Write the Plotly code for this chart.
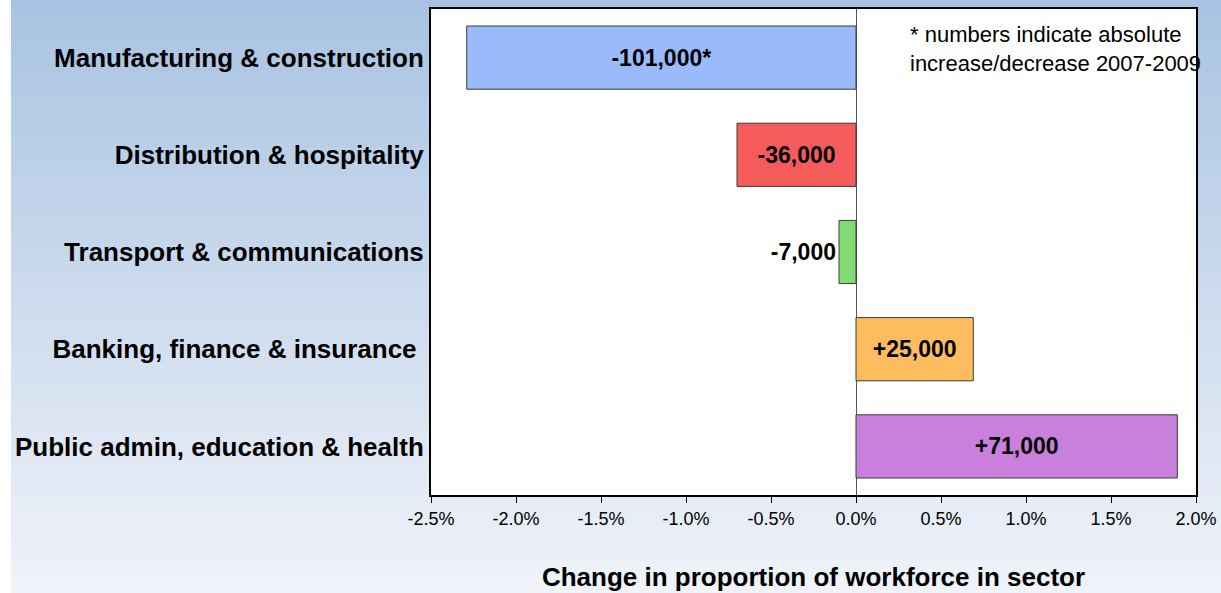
"""Change in proportion of workforce by sector, 2007-2009."""

import plotly.graph_objects as go

sectors = [
    "Manufacturing & construction",
    "Distribution & hospitality",
    "Transport & communications",
    "Banking, finance & insurance ",
    "Public admin, education & health",
]
change_pct = [-2.29, -0.70, -0.10, 0.69, 1.89]
abs_change = ["-101,000*", "-36,000", "-7,000", "+25,000", "+71,000"]
bar_colors = ["#99bbfb", "#f45c5c", "#82dc74", "#fdbd5e", "#c880dc"]
x_ticks = [-2.5, -2.0, -1.5, -1.0, -0.5, 0.0, 0.5, 1.0, 1.5, 2.0]
note_lines = ["* numbers indicate absolute", "increase/decrease 2007-2009"]

FONT = "Liberation Sans, Arial, sans-serif"
W, H = 1221, 593
M_L, M_R, M_T, M_B = 431, 25, 9, 98
PW, PH = W - M_L - M_R, H - M_T - M_B


def px_x(p):
    return (p - M_L) / PW


def px_y(p):
    return (H - M_B - p) / PH


def mix(c0, c1, t):
    return "rgb({},{},{})".format(*[round(a + (b - a) * t) for a, b in zip(c0, c1)])


fig = go.Figure(
    go.Bar(
        x=change_pct,
        y=sectors,
        orientation="h",
        width=0.65,
        marker={"color": bar_colors, "line": {"color": "#3a3a3a", "width": 1}},
        text=abs_change,
        textposition=["inside", "inside", "outside", "inside", "inside"],
        insidetextanchor="middle",
        textangle=0,
        textfont={"family": FONT, "size": 23, "color": "black", "weight": "bold"},
        cliponaxis=False,
        hoverinfo="skip",
    )
)

# gradient backdrop behind the whole figure, white plot area on top
top, bottom = (168, 195, 226), (240, 243, 249)
steps = 80
shapes = []
for i in range(steps):
    y0 = i * H / steps
    y1 = (i + 1) * H / steps + 0.5
    shapes.append(
        dict(
            type="rect", xref="paper", yref="paper", layer="below",
            x0=px_x(11), x1=px_x(W + 2), y0=px_y(y1), y1=px_y(y0),
            fillcolor=mix(top, bottom, i / (steps - 1)), line_width=0,
        )
    )
shapes.append(
    dict(type="rect", xref="paper", yref="paper", layer="below",
         x0=0, x1=1, y0=0, y1=1, fillcolor="white", line_width=0)
)

annotations = [
    dict(
        text=line, xref="paper", yref="paper", x=px_x(908), y=px_y(yc),
        xanchor="left", yanchor="middle", showarrow=False,
        font={"family": FONT, "size": 22, "color": "black"},
    )
    for line, yc in zip(note_lines, [35, 64])
]

fig.update_layout(
    width=W,
    height=H,
    margin={"l": M_L, "r": M_R, "t": M_T, "b": M_B},
    paper_bgcolor="white",
    plot_bgcolor="rgba(0,0,0,0)",
    showlegend=False,
    shapes=shapes,
    annotations=annotations,
    font={"family": FONT, "color": "black"},
)
fig.update_xaxes(
    range=[-2.5, 2.0],
    tickvals=x_ticks,
    ticktext=[f"{v:.1f}%" for v in x_ticks],
    tickfont={"size": 18},
    ticks="outside",
    ticklen=6,
    tickcolor="black",
    showgrid=False,
    zeroline=True,
    zerolinecolor="#555",
    zerolinewidth=1,
    showline=True,
    linecolor="black",
    linewidth=2,
    mirror=True,
    automargin=False,
    title={
        "text": "<b>Change in proportion of workforce in sector</b>",
        "font": {"size": 26},
        "standoff": 40,
    },
)
fig.update_yaxes(
    autorange="reversed",
    tickfont={"size": 26, "weight": "bold"},
    ticks="",
    showgrid=False,
    showline=True,
    linecolor="black",
    linewidth=2,
    mirror=True,
    automargin=False,
)

fig.write_html(
    "out.html",
    config={"displayModeBar": False},
    post_script="document.body.style.margin='0';",
)
